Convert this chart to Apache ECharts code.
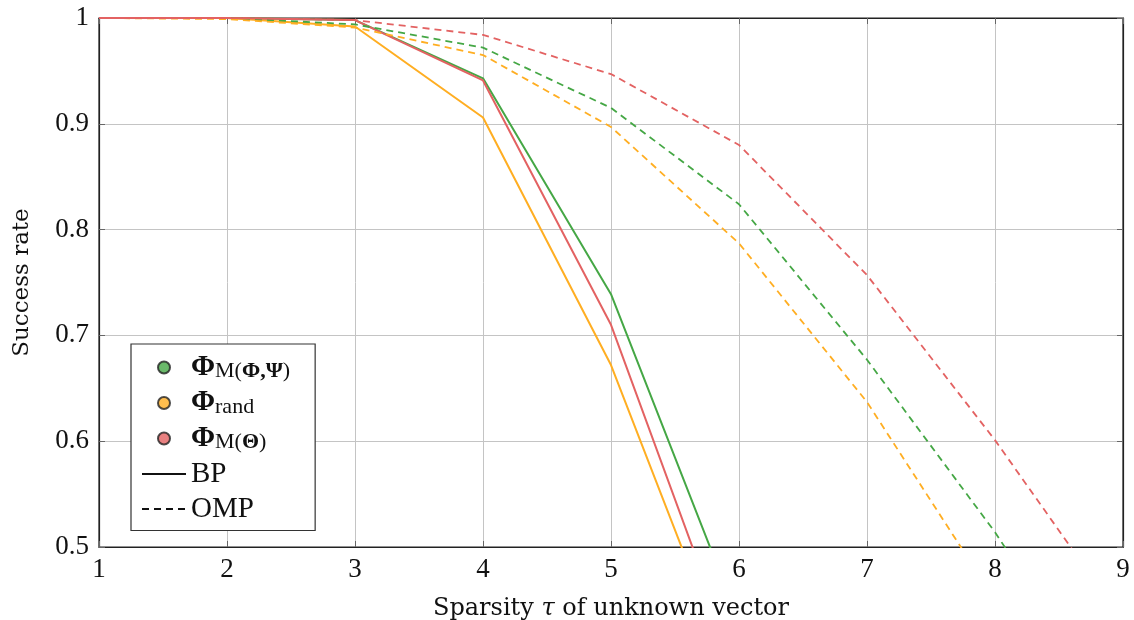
<!DOCTYPE html>
<html>
<head>
<meta charset="utf-8">
<script src="https://cdn.jsdelivr.net/npm/echarts@6/dist/echarts.min.js"></script>
<style>html,body{margin:0;padding:0;background:#fff}#c{width:1134px;height:620px}</style>
</head>
<body>
<div id="c"></div>
<script>
// ---- data ----
const xValues = [1, 2, 3, 4, 5, 6, 7, 8, 9];
const xTicks = ['1','2','3','4','5','6','7','8','9'];
const yTicks = ['0.5','0.6','0.7','0.8','0.9','1'];
const bpMPhiPsi  = [1, 1, 0.998, 0.943, 0.739, 0.43, null, null, null];
const bpRand     = [1, 1, 0.992, 0.906, 0.672, 0.36, null, null, null];
const bpMTheta   = [1, 1, 0.998, 0.941, 0.710, 0.38, null, null, null];
const ompMPhiPsi = [1, 1, 0.994, 0.972, 0.915, 0.824, 0.677, 0.514, 0.33];
const ompRand    = [1, 0.999, 0.991, 0.965, 0.897, 0.787, 0.637, 0.45, 0.25];
const ompMTheta  = [1, 1, 0.998, 0.984, 0.947, 0.880, 0.757, 0.601, 0.43];

const GREEN = '#45a745', ORANGE = '#ffae22', RED = '#e36262';
const FONT = 'Liberation Serif';
const TFONT = 'DejaVu Serif';

function pairs(arr){ return xValues.map((x,i)=>[x, arr[i]]).filter(p=>p[1]!==null); }

const chart = echarts.init(document.getElementById('c'), null, {renderer:'canvas'});

function lineSeries(name, data, color, dashed){
  return {
    name, type:'line', data: pairs(data), symbol:'none', clip:true,
    lineStyle:{color, width: dashed?1.8:2, type: dashed?[7,5]:'solid'},
    itemStyle:{color}, z: 3, silent:true
  };
}

const rich = {
  b:{fontFamily:FONT, fontWeight:'bold', fontSize:29, color:'#111', lineHeight:30, verticalAlign:'middle'},
  s:{fontFamily:FONT, fontSize:22, color:'#111', lineHeight:30, verticalAlign:'bottom'},
  sb:{fontFamily:FONT, fontWeight:'bold', fontSize:22, color:'#111', lineHeight:30, verticalAlign:'bottom'},
  n:{fontFamily:FONT, fontSize:29, color:'#111', lineHeight:30}
};

const legendLabels = {
  mpp:'{b|Φ}{s|M(}{sb|Φ,Ψ}{s|)}',
  rand:'{b|Φ}{s|rand}',
  mth:'{b|Φ}{s|M(}{sb|Θ}{s|)}',
  BP:'{n|BP}',
  OMP:'{n|OMP}'
};

const option = {
  animation:false,
  backgroundColor:'#fff',
  grid:{left:99, right:11, top:18, bottom:73, show:true, borderColor:'#222', borderWidth:1.2,
        backgroundColor:'transparent', containLabel:false, outerBoundsMode:'none'},
  xAxis:[{
    type:'value', min:1, max:9, interval:1,
    axisLine:{show:true, onZero:false, lineStyle:{color:'#222', width:1.2}},
    axisTick:{show:true, inside:true, length:6, lineStyle:{color:'#666'}},
    splitLine:{show:true, lineStyle:{color:'#c4c4c4', width:1}},
    axisLabel:{fontFamily:FONT, fontSize:27, color:'#111', margin:9, formatter:(v)=>xTicks[v-1]},
    name:'{n|Sparsity }{i|τ}{n| of unknown vector}', nameLocation:'middle', nameGap:50,
    nameTextStyle:{rich:{n:{fontFamily:TFONT, fontSize:24, color:'#111'}, i:{fontFamily:TFONT, fontStyle:'italic', fontSize:24, color:'#111'}}}
  },{
    type:'value', min:1, max:9, interval:1, position:'top',
    axisLine:{show:true, onZero:false, lineStyle:{color:'#222', width:1.2}},
    axisTick:{show:true, inside:true, length:6, lineStyle:{color:'#666'}},
    splitLine:{show:false}, axisLabel:{show:false}
  }],
  yAxis:[{
    type:'value', min:0.5, max:1, interval:0.1,
    axisLine:{show:true, onZero:false, lineStyle:{color:'#222', width:1.2}},
    axisTick:{show:true, inside:true, length:6, lineStyle:{color:'#666'}},
    splitLine:{show:true, lineStyle:{color:'#c4c4c4', width:1}},
    axisLabel:{fontFamily:FONT, fontSize:27, color:'#111', margin:10,
      formatter:(v)=>yTicks[Math.round((v-0.5)*10)]},
    name:'Success rate', nameLocation:'middle', nameGap:65, nameRotate:90,
    nameTextStyle:{fontFamily:TFONT, fontSize:23, color:'#111'}
  },{
    type:'value', min:0.5, max:1, interval:0.1, position:'right',
    axisLine:{show:true, onZero:false, lineStyle:{color:'#222', width:1.2}},
    axisTick:{show:true, inside:true, length:6, lineStyle:{color:'#666'}},
    splitLine:{show:false}, axisLabel:{show:false}
  }],
  legend:{
    orient:'vertical', left:131, top:344,
    backgroundColor:'#fff', borderColor:'#333', borderWidth:1.2,
    padding:[9,25,7,10], itemGap:6, itemWidth:44, itemHeight:12,
    data:[
      {name:'mpp', icon:'circle'},
      {name:'rand', icon:'circle'},
      {name:'mth', icon:'circle'},
      {name:'BP', itemStyle:{opacity:0}},
      {name:'OMP', itemStyle:{opacity:0}}
    ],
    formatter:(name)=>legendLabels[name],
    textStyle:{rich, fontFamily:FONT, fontSize:29, color:'#111'},
    selectedMode:false
  },
  series:[
    lineSeries('bp1', bpMPhiPsi, GREEN, false),
    lineSeries('bp2', bpRand, ORANGE, false),
    lineSeries('bp3', bpMTheta, RED, false),
    lineSeries('omp1', ompMPhiPsi, GREEN, true),
    lineSeries('omp2', ompRand, ORANGE, true),
    lineSeries('omp3', ompMTheta, RED, true),
    {name:'mpp', type:'scatter', data:[], itemStyle:{color:GREEN, borderColor:'#222', borderWidth:0.8}},
    {name:'rand', type:'scatter', data:[], itemStyle:{color:ORANGE, borderColor:'#222', borderWidth:0.8}},
    {name:'mth', type:'scatter', data:[], itemStyle:{color:RED, borderColor:'#222', borderWidth:0.8}},
    {name:'BP', type:'line', data:[], symbol:'none', itemStyle:{color:'#111'}, lineStyle:{color:'#111', width:1.8, type:'solid'}},
    {name:'OMP', type:'line', data:[], symbol:'none', itemStyle:{color:'#111'}, lineStyle:{color:'#111', width:1.8, type:[7,5]}}
  ]
};
chart.setOption(option);
</script>
</body>
</html>
